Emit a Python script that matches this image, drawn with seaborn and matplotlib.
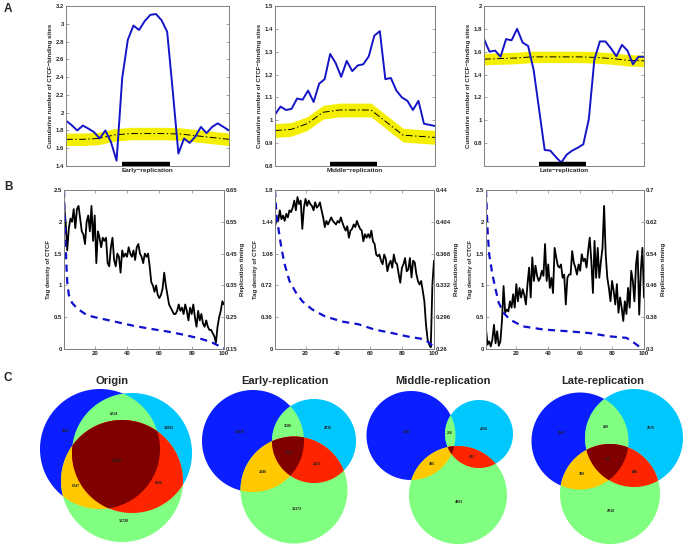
import numpy as np
import matplotlib
matplotlib.use('Agg')
import matplotlib.pyplot as plt
import seaborn as sns
from matplotlib.patches import Polygon

sns.set_style('ticks')
plt.rcParams['font.family'] = ['Liberation Sans', 'DejaVu Sans']
plt.rcParams['font.weight'] = 'bold'
plt.rcParams['axes.labelweight'] = 'bold'

# ---------------- Panel A data (cumulative CTCF sites around domains)
a_labels = ['Early\u2212replication', 'Middle\u2212replication', 'Late\u2212replication']
early_obs = [1.91, 1.86, 1.80, 1.855, 1.82, 1.78, 1.71, 1.80, 1.67, 1.46,
             2.39, 2.82, 2.98, 2.93, 3.03, 3.10, 3.11, 3.04, 2.91, 2.24,
             1.54, 1.71, 1.66, 1.73, 1.84, 1.77, 1.84, 1.88, 1.84, 1.80]
middle_obs = [1.025, 1.06, 1.045, 1.05, 1.095, 1.09, 1.13, 1.08, 1.16, 1.18,
              1.29, 1.25, 1.19, 1.26, 1.215, 1.24, 1.245, 1.28, 1.37, 1.39,
              1.18, 1.185, 1.13, 1.10, 1.085, 1.045, 1.085, 0.985, 0.98, 0.975]
late_obs = [1.71, 1.60, 1.61, 1.556, 1.71, 1.70, 1.80, 1.68, 1.65, 1.44,
            1.09, 0.74, 0.735, 0.68, 0.63, 0.70, 0.735, 0.76, 0.79, 1.01,
            1.53, 1.69, 1.69, 1.63, 1.56, 1.66, 1.61, 1.49, 1.556, 1.556]
early_exp = [1.70, 1.70, 1.71, 1.75, 1.765, 1.765, 1.765, 1.76, 1.74, 1.72, 1.70]
middle_exp = [0.955, 0.96, 0.985, 1.035, 1.045, 1.045, 1.045, 0.99, 0.935, 0.93, 0.925]
late_exp = [1.535, 1.54, 1.545, 1.555, 1.555, 1.555, 1.555, 1.55, 1.54, 1.525, 1.52]
exp_halfwidth = [0.07, 0.03, 0.05]
domain_start, domain_end = 0.345, 0.64

# ---------------- Panel B data (tag density vs replication timing)
early_tag = [2.27, 2.0, 1.55, 1.9, 2.05, 2.0, 2.2, 1.9, 2.2, 2.25,
             2.05, 1.85, 1.8, 1.65, 2.0, 2.1, 1.85, 2.25, 1.7, 2.1,
             1.35, 1.85, 1.75, 1.6, 1.75, 1.7, 1.75, 1.35, 1.3, 1.6,
             1.75, 1.4, 1.3, 1.5, 1.45, 1.2, 1.55, 1.45, 1.5, 1.45,
             1.6, 1.5, 1.45, 1.55, 1.4, 1.6, 1.65, 1.5, 1.45, 1.35,
             1.5, 1.45, 1.5, 1.3, 1.05, 1.0, 0.9, 1.0, 0.85, 0.8,
             0.85, 0.95, 1.2, 1.0, 0.85, 0.7, 0.65, 0.6, 0.55, 0.55,
             0.6, 0.7, 0.6, 0.65, 0.55, 0.7, 0.6, 0.45, 0.65, 0.55,
             0.7, 0.5, 0.35, 0.6, 0.45, 0.55, 0.4, 0.35, 0.45, 0.35,
             0.3, 0.3, 0.25, 0.2, 0.1, 0.35, 0.5, 0.6, 0.75, 0.7]
middle_tag = [1.38, 1.49, 1.45, 1.57, 1.47, 1.51, 1.45, 1.53, 1.49, 1.57,
              1.55, 1.60, 1.68, 1.57, 1.72, 1.64, 1.68, 1.36, 1.60, 1.70,
              1.62, 1.68, 1.64, 1.62, 1.57, 1.66, 1.60, 1.62, 1.66, 1.57,
              1.49, 1.38, 1.45, 1.41, 1.45, 1.49, 1.45, 1.43, 1.41, 1.45,
              1.43, 1.49, 1.43, 1.38, 1.34, 1.39, 1.26, 1.34, 1.36, 1.41,
              1.38, 1.45, 1.40, 1.36, 1.34, 1.22, 1.30, 1.26, 1.30, 1.26,
              1.34, 1.22, 1.19, 1.07, 1.05, 1.07, 1.00, 0.96, 1.07, 1.02,
              0.88, 0.96, 1.00, 0.92, 1.07, 0.98, 0.96, 0.85, 0.75, 0.92,
              0.96, 1.03, 0.88, 0.90, 1.03, 0.81, 1.00, 0.98, 0.85, 0.77,
              0.73, 0.77, 0.66, 0.54, 0.28, 0.11, 0.05, 0.02, 0.73, 1.00]
late_tag = [0.31, 0.07, 0.12, 0.04, 0.15, 0.38, 0.09, 0.28, 0.05, 0.12,
            0.44, 0.99, 0.57, 0.62, 0.59, 0.75, 0.65, 0.86, 0.65, 1.02,
            0.75, 0.96, 0.81, 0.94, 0.85, 0.70, 1.02, 1.28, 0.81, 1.44,
            1.07, 1.31, 1.15, 1.07, 1.12, 1.23, 1.15, 1.65, 1.07, 1.33,
            0.96, 1.12, 0.88, 1.59, 1.44, 1.31, 1.28, 1.33, 1.12, 1.17,
            0.70, 1.12, 1.17, 1.17, 1.54, 1.36, 1.28, 1.17, 1.33, 1.23,
            1.49, 1.38, 1.42, 1.28, 1.54, 1.75, 1.38, 0.88, 1.70, 1.12,
            1.59, 1.12, 1.38, 1.59, 2.25, 1.49, 1.12, 0.96, 0.75, 1.07,
            0.91, 0.70, 1.02, 0.57, 0.81, 0.65, 0.44, 0.75, 0.55, 0.96,
            0.65, 1.23, 1.07, 0.75, 1.33, 1.54, 0.54, 1.23, 1.59, 0.81]
early_rt_x = [1, 2, 3, 4, 6, 9, 15, 20, 29, 44, 55, 65, 75, 85, 92, 96, 100]
early_rt = [0.65, 0.47, 0.36, 0.32, 0.295, 0.278, 0.257, 0.25, 0.24, 0.223,
            0.213, 0.205, 0.195, 0.183, 0.172, 0.162, 0.153]
middle_rt_x = [1, 2, 3, 5, 7, 10, 14, 18, 24, 32, 43, 53, 63, 74, 84, 94, 97, 100]
middle_rt = [0.44, 0.41, 0.398, 0.374, 0.356, 0.337, 0.324, 0.314, 0.305, 0.297,
             0.291, 0.288, 0.282, 0.278, 0.274, 0.271, 0.267, 0.262]
late_rt_x = [1, 2, 3, 5, 7, 9, 12, 16, 24, 37, 51, 66, 78, 89, 94, 98, 100]
late_rt = [0.70, 0.597, 0.538, 0.488, 0.45, 0.416, 0.391, 0.374, 0.357, 0.349,
           0.345, 0.34, 0.332, 0.328, 0.315, 0.303, 0.30]
tag_ticks = [[0, 0.5, 1, 1.5, 2, 2.5], [0, 0.36, 0.72, 1.08, 1.44, 1.8], [0, 0.5, 1, 1.5, 2, 2.5]]
rt_ticks = [[0.15, 0.25, 0.35, 0.45, 0.55, 0.65], [0.26, 0.296, 0.332, 0.368, 0.404, 0.44],
            [0.3, 0.38, 0.46, 0.54, 0.62, 0.7]]

# ---------------- Panel C data (Venn counts)
venn_titles = ['Origin', 'Early-replication', 'Middle-replication', 'Late-replication']
regions = ['A', 'AB', 'B', 'ABC', 'BC', 'AC', 'C']
origin_counts = [5587, 6214, 13093, 19993, 8226, 6347, 18720]
early_counts = [10030, 1186, 4735, 1722, 2221, 3346, 18373]
middle_counts = [3532, 266, 2250, None, 421, 485, 4891]
late_counts = [5567, 839, 2576, 262, 848, 399, 2918]

# ---------------- figure
W, H = 686, 547
fig = plt.figure(figsize=(W / 100, H / 100), dpi=100)


def px_axes(x0, x1, y0, y1):
    return fig.add_axes([x0 / W, 1 - y1 / H, (x1 - x0) / W, (y1 - y0) / H])


def style_axes(ax):
    for s in ax.spines.values():
        s.set_color('#808080')
        s.set_linewidth(0.7)
    ax.tick_params(direction='in', length=2, width=0.5, color='#808080',
                   labelsize=4.3, pad=1.5)


fmt = lambda v: '%g' % v

# Panel A
a_boxes = [(66, 229), (275, 435), (484, 644)]
a_ylims = [(1.4, 3.2), (0.8, 1.5), (0.6, 2.0)]
a_ticks = [[1.4, 1.6, 1.8, 2, 2.2, 2.4, 2.6, 2.8, 3, 3.2],
           [0.8, 0.9, 1, 1.1, 1.2, 1.3, 1.4, 1.5],
           [0.8, 1, 1.2, 1.4, 1.6, 1.8, 2]]
for i, (obs, exp) in enumerate(zip([early_obs, middle_obs, late_obs],
                                   [early_exp, middle_exp, late_exp])):
    ax = px_axes(*a_boxes[i], 6, 166)
    x_obs = np.linspace(0, 1, len(obs))
    x_exp = np.linspace(0, 1, len(exp))
    exp = np.array(exp)
    ax.fill_between(x_exp, exp - exp_halfwidth[i], exp + exp_halfwidth[i],
                    color='#f4ef00', lw=0)
    sns.lineplot(x=x_exp, y=exp, ax=ax, color='k', lw=0.7, linestyle=(0, (7, 2.5, 1.5, 2.5)))
    sns.lineplot(x=x_obs, y=obs, ax=ax, color='#1414c8', lw=1.4)
    ax.plot([domain_start, domain_end], [0.014, 0.014], transform=ax.transAxes,
            color='k', lw=3.2, solid_capstyle='butt')
    ax.set_xlim(0, 1)
    ax.set_ylim(*a_ylims[i])
    ax.set_xticks([])
    ax.set_yticks(a_ticks[i])
    ax.set_yticklabels([fmt(v) for v in a_ticks[i]])
    style_axes(ax)
    ax.tick_params(axis='y', right=True)
    ax.set_xlabel(a_labels[i], fontsize=4.6, labelpad=1.5)
    ax.set_ylabel('Cumulative number of CTCF\u2212binding sites', fontsize=4.4, labelpad=2)

# Panel B
b_boxes = [(64, 224), (275, 434), (486, 644)]
bins = np.arange(1, 101)
for i, (tag, rx, rt) in enumerate(zip([early_tag, middle_tag, late_tag],
                                      [early_rt_x, middle_rt_x, late_rt_x],
                                      [early_rt, middle_rt, late_rt])):
    ax = px_axes(*b_boxes[i], 190, 349)
    sns.lineplot(x=bins, y=tag, ax=ax, color='k', lw=1.3)
    ax.set_xlim(1, 100)
    ax.set_ylim(tag_ticks[i][0], tag_ticks[i][-1])
    ax.set_xticks([20, 40, 60, 80, 100])
    ax.set_yticks(tag_ticks[i])
    ax.set_yticklabels([fmt(v) for v in tag_ticks[i]])
    style_axes(ax)
    ax.tick_params(axis='x', top=True)
    ax.set_ylabel('Tag density of CTCF', fontsize=4.4, labelpad=2)
    ax2 = ax.twinx()
    sns.lineplot(x=rx, y=rt, ax=ax2, color='#1010cc', lw=1.6, linestyle=(0, (3.2, 2.4)))
    ax2.set_ylim(rt_ticks[i][0], rt_ticks[i][-1])
    ax2.set_yticks(rt_ticks[i])
    ax2.set_yticklabels([fmt(v) for v in rt_ticks[i]])
    style_axes(ax2)
    ax2.set_ylabel('Replication timing', fontsize=4.4, labelpad=2)

# Panel C: Venn diagrams drawn in pixel space
venn_layout = [
    [(100, 449, 60), (132, 453, 60), (122, 481, 61)],
    [(253, 441, 51), (314, 441, 42), (294, 490, 53.5)],
    [(411, 435.5, 44.5), (479, 434, 34), (458, 495, 49)],
    [(580, 441, 48.5), (634, 438, 49), (610, 494, 50)],
]
title_x = [112, 285, 443, 603]
col = {'A': '#0a1eff', 'B': '#00c8ff', 'C': '#80ff80',
       'AB': '#80ff80', 'AC': '#ffc800', 'BC': '#ff2400', 'ABC': '#800000'}

axc = fig.add_axes([0, 0, 1, 177 / H])
axc.set_xlim(0, W)
axc.set_ylim(H, 370)
axc.axis('off')


def circle_pts(c, n=1440):
    t = np.linspace(0, 2 * np.pi, n, endpoint=False)
    return np.column_stack([c[0] + c[2] * np.cos(t), c[1] + c[2] * np.sin(t)])


def inside(p, c):
    return (p[:, 0] - c[0]) ** 2 + (p[:, 1] - c[1]) ** 2 <= c[2] ** 2


def intersection(circs):
    pts = []
    for i, c in enumerate(circs):
        p = circle_pts(c)
        m = np.ones(len(p), bool)
        for j, d in enumerate(circs):
            if j != i:
                m &= inside(p, d)
        pts.append(p[m])
    pts = np.vstack(pts)
    if len(pts) < 3:
        return None
    ctr = pts.mean(axis=0)
    return pts[np.argsort(np.arctan2(pts[:, 1] - ctr[1], pts[:, 0] - ctr[0]))]


for k, counts in enumerate([origin_counts, early_counts, middle_counts, late_counts]):
    A, B, C = venn_layout[k]
    for key, c in zip('ABC', (A, B, C)):
        axc.add_patch(Polygon(circle_pts(c), closed=True, fc=col[key], ec='none'))
    for key, cs in [('AB', (A, B)), ('AC', (A, C)), ('BC', (B, C)), ('ABC', (A, B, C))]:
        poly = intersection(cs)
        if poly is not None:
            axc.add_patch(Polygon(poly, closed=True, fc=col[key], ec='none'))
    # label positions: centroid of each region on a fine grid
    xs = np.arange(min(c[0] - c[2] for c in (A, B, C)), max(c[0] + c[2] for c in (A, B, C)), 0.5)
    ys = np.arange(min(c[1] - c[2] for c in (A, B, C)), max(c[1] + c[2] for c in (A, B, C)), 0.5)
    gx, gy = np.meshgrid(xs, ys)
    g = np.column_stack([gx.ravel(), gy.ravel()])
    ia, ib, ic = inside(g, A), inside(g, B), inside(g, C)
    masks = {'A': ia & ~ib & ~ic, 'B': ib & ~ia & ~ic, 'C': ic & ~ia & ~ib,
             'AB': ia & ib & ~ic, 'AC': ia & ic & ~ib, 'BC': ib & ic & ~ia,
             'ABC': ia & ib & ic}
    for name, n in zip(regions, counts):
        if n is None or masks[name].sum() == 0:
            continue
        pts = g[masks[name]]
        cen = pts.mean(axis=0)
        d = ((pts - cen) ** 2).sum(axis=1)
        if not masks[name][np.argmin(((g - cen) ** 2).sum(axis=1))]:
            cen = pts[np.argmin(d)]
        axc.text(cen[0], cen[1], str(n), fontsize=2.6, ha='center', va='center', color='#202020')
    axc.text(title_x[k], 381, venn_titles[k], fontsize=8, fontweight='bold',
             ha='center', va='center')

for letter, y in [('A', 3), ('B', 181), ('C', 372)]:
    fig.text(4 / W, 1 - y / H, letter, fontsize=8.5, fontweight='bold', va='top', ha='left')

fig.savefig('out.png', dpi=100)
